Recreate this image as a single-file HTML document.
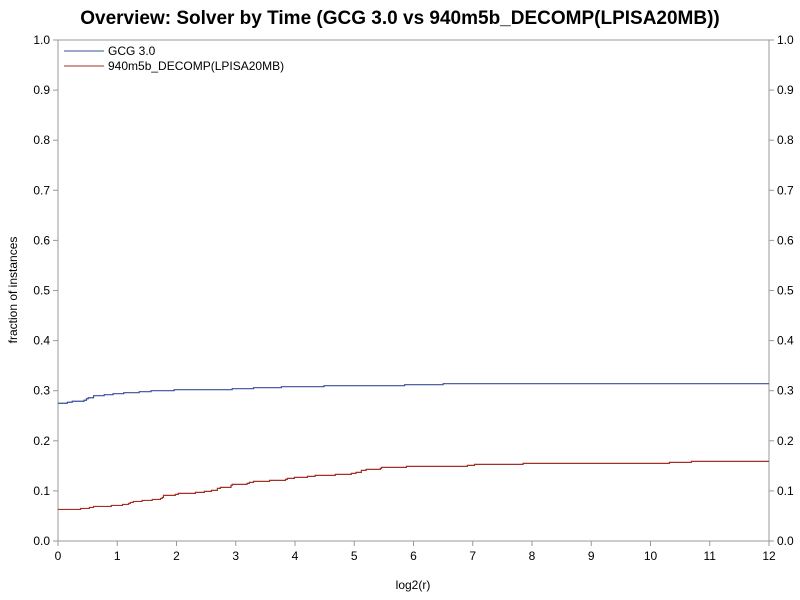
<!DOCTYPE html>
<html><head><meta charset="utf-8"><style>
body{margin:0;background:#fff;}
svg{display:block;font-family:"Liberation Sans",Arial,sans-serif;}
</style></head><body>
<svg id="chart" width="800" height="600">
<text x="400" y="24" text-anchor="middle" font-size="19" font-weight="bold">Overview: Solver by Time (GCG 3.0 vs 940m5b_DECOMP(LPISA20MB))</text>
<rect x="58" y="40" width="711" height="501" fill="none" stroke="#999" stroke-width="1"/>
<g id="axes"></g>
<g id="series"></g>
<text transform="translate(17,290) rotate(-90)" text-anchor="middle" font-size="12">fraction of instances</text>
<text x="413" y="589" text-anchor="middle" font-size="12">log2(r)</text>
<g>
<line x1="64" y1="51" x2="104" y2="51" stroke="#3a4f9a" stroke-width="1"/>
<text x="108" y="55" font-size="12">GCG 3.0</text>
<line x1="64" y1="66" x2="104" y2="66" stroke="#a33028" stroke-width="1"/>
<text x="108" y="70" font-size="12">940m5b_DECOMP(LPISA20MB)</text>
</g>
</svg>
<script>
const xTicks=[0,1,2,3,4,5,6,7,8,9,10,11,12];
const yTicks=["0.0","0.1","0.2","0.3","0.4","0.5","0.6","0.7","0.8","0.9","1.0"];
const gcgX=[0,0.157,0.24,0.44,0.48,0.51,0.6,0.78,0.93,1.11,1.37,1.57,1.96,2.94,3.3,3.77,4.49,5.85,6.5,12];
const gcgY=[0.275,0.277,0.279,0.281,0.284,0.286,0.290,0.292,0.294,0.296,0.298,0.300,0.302,0.304,0.306,0.308,0.310,0.312,0.314,0.314];
const decX=[0,0.38,0.53,0.6,0.9,1.09,1.19,1.22,1.27,1.42,1.59,1.73,1.76,1.78,1.98,2.03,2.32,2.47,2.59,2.69,2.74,2.92,2.94,3.19,3.23,3.3,3.57,3.84,3.87,3.99,4.21,4.34,4.68,4.95,5.03,5.12,5.2,5.44,5.46,5.88,6.91,7.03,7.85,10.32,10.69,12];
const decY=[0.063,0.065,0.067,0.069,0.071,0.073,0.075,0.077,0.079,0.081,0.083,0.085,0.087,0.091,0.093,0.095,0.097,0.099,0.101,0.105,0.107,0.111,0.113,0.115,0.117,0.119,0.121,0.123,0.125,0.127,0.129,0.131,0.133,0.135,0.137,0.141,0.143,0.145,0.147,0.149,0.151,0.153,0.155,0.157,0.159,0.159];
const NS="http://www.w3.org/2000/svg";
const X0=58,X1=769,Y0=541,Y1=40;
function sx(v){return X0+(v-0)/(12-0)*(X1-X0);}
function sy(v){return Y0-(v-0)/(1-0)*(Y0-Y1);}
const axes=document.getElementById('axes');
function mk(tag,attrs,parent){const e=document.createElementNS(NS,tag);for(const k in attrs)e.setAttribute(k,attrs[k]);parent.appendChild(e);return e;}
xTicks.forEach(t=>{
 const l=mk('line',{x1:sx(t),x2:sx(t),y1:Y0,y2:Y0+5,stroke:'#999'},axes);
 
 
 const tx=mk('text',{x:sx(t),y:Y0+19,'text-anchor':'middle','font-size':12},axes);
 tx.textContent=t;
 
 
});
yTicks.forEach(t=>{
 const v=parseFloat(t),y=sy(v);
 const l=mk('line',{x1:X0-5,x2:X0,y1:y,y2:y,stroke:'#999'},axes);
 
 
 const r=mk('line',{x1:X1,x2:X1+5,y1:y,y2:y,stroke:'#999'},axes);
 
 
 const a=mk('text',{x:X0-8,y:y+4,'text-anchor':'end','font-size':12},axes);
 a.textContent=t;
 
 
 const b=mk('text',{x:X1+8,y:y+4,'text-anchor':'start','font-size':12},axes);
 b.textContent=t;
 
 
});
function stepPath(xs,ys){
 let d='M'+sx(xs[0])+','+sy(ys[0]);
 for(let i=1;i<xs.length;i++){d+=' H'+sx(xs[i])+' V'+sy(ys[i]);}
 return d;
}
const g=document.getElementById('series');
const p1=mk('path',{d:stepPath(gcgX,gcgY),fill:'none',stroke:'#3a4f9a','stroke-width':1.2},g);


const p2=mk('path',{d:stepPath(decX,decY),fill:'none',stroke:'#a33028','stroke-width':1.2},g);


</script>
</body></html>
